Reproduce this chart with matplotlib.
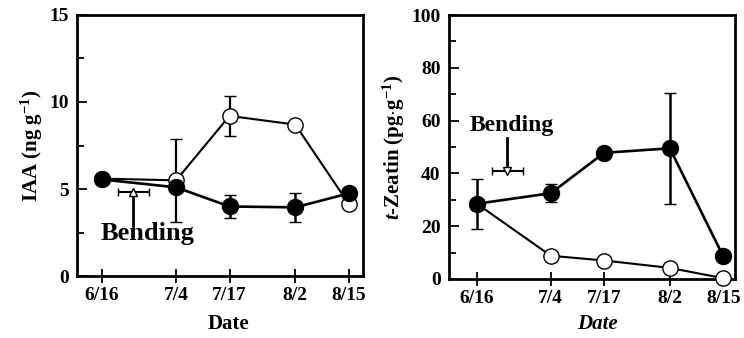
import matplotlib
matplotlib.use("Agg")
import matplotlib.pyplot as plt
from datetime import date

dates = ["6/16", "7/4", "7/17", "8/2", "8/15"]
d0 = date(2000, 6, 16)
days = [(date(2000, int(s.split('/')[0]), int(s.split('/')[1])) - d0).days for s in dates]

iaa_filled = [5.55, 5.1, 4.0, 3.95, 4.75]
iaa_filled_err = [0, 0, 0.65, 0.85, 0]
iaa_open = [5.6, 5.5, 9.2, 8.7, 4.15]
iaa_open_err = [0, 2.4, 1.15, 0, 0]

zea_filled = [28.5, 32.5, 47.8, 49.5, 8.6]
zea_filled_err = [9.4, 3.5, 0, 21.0, 0]
zea_open = [28.5, 8.8, 7.0, 4.2, 0.3]
zea_open_err = [0, 0, 0, 0, 0]

plt.rcParams['font.family'] = ['Liberation Serif', 'DejaVu Serif']
plt.rcParams['font.weight'] = 'bold'
plt.rcParams['mathtext.fontset'] = 'custom'
plt.rcParams['mathtext.rm'] = 'Liberation Serif:bold'
plt.rcParams['mathtext.it'] = 'Liberation Serif:bold:italic'
plt.rcParams['mathtext.bf'] = 'Liberation Serif:bold'

fig = plt.figure(figsize=(7.44, 3.38), dpi=100)
ax1 = fig.add_axes([0.1035, 0.183, 0.384, 0.773])
ax2 = fig.add_axes([0.6035, 0.1746, 0.384, 0.781])

def style(ax, xlim, ylim, yticks, yminor):
    ax.set_xlim(*xlim)
    ax.set_ylim(*ylim)
    ax.set_xticks(days)
    ax.set_xticklabels(dates)
    ax.set_yticks(yticks)
    ax.set_yticks(yminor, minor=True)
    for s in ax.spines.values():
        s.set_linewidth(2.0)
    ax.tick_params(axis='x', direction='inout', length=10, width=1.3, labelsize=14, pad=3)
    ax.tick_params(axis='y', which='major', direction='in', length=7, width=1.3, labelsize=14, pad=6)
    ax.tick_params(axis='y', which='minor', direction='in', length=5, width=1.3)
    for lab in ax.get_xticklabels() + ax.get_yticklabels():
        lab.set_fontweight('bold')

def plot_series(ax, y_f, e_f, y_o, e_o):
    ax.errorbar(days, y_o, yerr=e_o, color='black', lw=1.5, elinewidth=1.6, capsize=4.5,
                marker='o', ms=11, mfc='white', mec='black', mew=1.0, zorder=3)
    ax.errorbar(days, y_f, yerr=e_f, color='black', lw=1.9, elinewidth=1.8, capsize=4.5,
                marker='o', ms=11.5, mfc='black', mec='black', zorder=4)

# Left panel
style(ax1, (-6.1, 63.4), (0, 15), [0, 5, 10, 15], [2.5, 7.5, 12.5])
plot_series(ax1, iaa_filled, iaa_filled_err, iaa_open, iaa_open_err)
ax1.errorbar([7.6], [4.85], xerr=[3.7], color='black', lw=1.5, capsize=3,
             marker='^', ms=6, mfc='white', mec='black', zorder=5)
ax1.plot([7.6, 7.6], [2.9, 4.6], color='black', lw=2.0)
ax1.text(11.0, 2.45, "Bending", ha='center', va='center', fontsize=19, fontweight='bold')
ax1.set_ylabel("IAA (ng g$^{-1}$)", fontsize=15, fontweight='bold', labelpad=3)
ax1.set_xlabel("Date", fontsize=15, fontweight='bold', labelpad=7)
ax1.xaxis.label.set_x(0.531)

# Right panel
style(ax2, (-6.8, 62.8), (0, 100), [0, 20, 40, 60, 80, 100], [10, 30, 50, 70, 90])
plot_series(ax2, zea_filled, zea_filled_err, zea_open, zea_open_err)
ax2.errorbar([7.4], [41], xerr=[3.8], color='black', lw=1.5, capsize=3,
             marker='v', ms=6, mfc='white', mec='black', zorder=5)
ax2.plot([7.4, 7.4], [43, 53.5], color='black', lw=2.0)
ax2.text(8.5, 58, "Bending", ha='center', va='center', fontsize=17, fontweight='bold')
ax2.set_ylabel("$t$-Zeatin (pg$\\cdot$g$^{-1}$)", fontsize=15, fontweight='bold', labelpad=3)
ax2.set_xlabel("Date", fontsize=15, fontweight='bold', fontstyle='italic', labelpad=5)
ax2.xaxis.label.set_x(0.521)
for line in ax2.lines:
    line.set_clip_on(False)

fig.savefig("out.png", dpi=100)
